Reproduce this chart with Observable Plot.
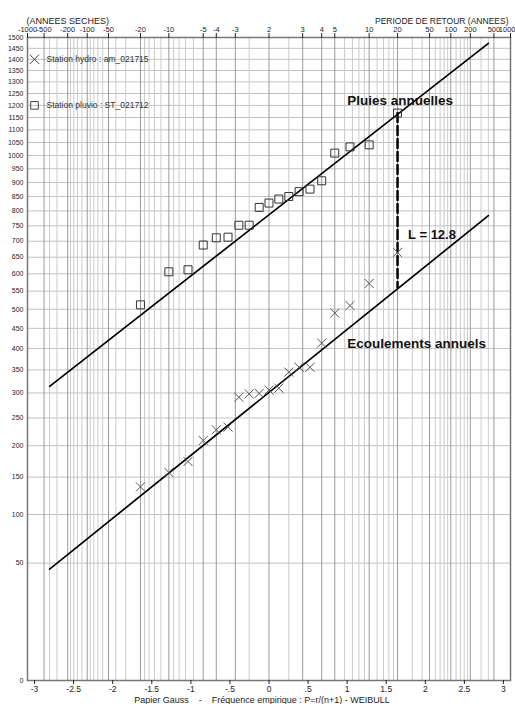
<!DOCTYPE html>
<html>
<head>
<meta charset="utf-8">
<script src="https://cdn.jsdelivr.net/npm/d3@7"></script>
<script src="https://cdn.jsdelivr.net/npm/@observablehq/plot@0.6"></script>
<style>
  html, body { margin: 0; padding: 0; background: #fff; }
</style>
</head>
<body>
<div id="chart"></div>
<script>
// ---- data ----
// annual rainfall (Station pluvio : ST_021712), sorted, n = 19
const rainfall = [512, 606, 612, 688, 711, 713, 752, 752, 812, 827, 841, 850, 867, 876, 906, 1009, 1033, 1041, 1168];
// annual runoff (Station hydro : am_021715), sorted, n = 19
const runoff = [136, 157, 174, 209, 228, 233, 291, 298, 299, 306, 310, 345, 356, 356, 413, 490, 510, 572, 665];

// fitted laws: end points given as non-exceedance probabilities and values
const fitP = [0.0025, 0.9975];
const rainFit = [314, 1473];
const runoffFit = [45, 784];

// return period marked by the dashed segment, and its ends
const markT = 20;
const markV = [1168, 560];

// axes
const yTicks = [0, 50, 100, 150, 200, 250, 300, 350, 400, 450, 500, 550, 600, 650, 700, 750, 800, 850, 900, 950, 1000, 1050, 1100, 1150, 1200, 1250, 1300, 1350, 1400, 1450, 1500];
const uTicks = [-3, -2.5, -2, -1.5, -1, -0.5, 0, 0.5, 1, 1.5, 2, 2.5, 3];
const periodsLabeled = [1000, 500, 200, 100, 50, 20, 10, 5, 4, 3];
const periodsGrid = [1000, 500, 400, 300, 200, 180, 160, 140, 120, 100, 90, 80, 70, 60, 50, 40, 30, 20, 18, 16, 14, 12, 10, 9, 8, 7, 6, 5, 4, 3, 2.5];

const legendItems = [
  {label: "Station hydro : am_021715", symbol: "times", v: 1400},
  {label: "Station pluvio : ST_021712", symbol: "square", v: 1200}
];
const annotations = [
  {text: "Pluies annuelles", u: 1.0, v: 1219, size: 13.5},
  {text: "Ecoulements annuels", u: 1.0, v: 411, size: 13.5},
  {text: "L = 12.8", u: 1.78, v: 722, size: 13}
];

// ---- inverse normal CDF (Acklam) ----
function qnorm(p) {
  const a = [-3.969683028665376e+01, 2.209460984245205e+02, -2.759285104469687e+02, 1.383577518672690e+02, -3.066479806614716e+01, 2.506628277459239e+00];
  const b = [-5.447609879822406e+01, 1.615858368580409e+02, -1.556989798598866e+02, 6.680131188771972e+01, -1.328068155288572e+01];
  const c = [-7.784894002430293e-03, -3.223964580411365e-01, -2.400758277161838e+00, -2.549732539343734e+00, 4.374664141464968e+00, 2.938163982698783e+00];
  const d = [7.784695709041462e-03, 3.224671290700398e-01, 2.445134137142996e+00, 3.754408661907416e+00];
  const pl = 0.02425, ph = 1 - pl;
  let q, r;
  if (p < pl) {
    q = Math.sqrt(-2 * Math.log(p));
    return (((((c[0]*q+c[1])*q+c[2])*q+c[3])*q+c[4])*q+c[5]) / ((((d[0]*q+d[1])*q+d[2])*q+d[3])*q+1);
  }
  if (p > ph) {
    q = Math.sqrt(-2 * Math.log(1 - p));
    return -(((((c[0]*q+c[1])*q+c[2])*q+c[3])*q+c[4])*q+c[5]) / ((((d[0]*q+d[1])*q+d[2])*q+d[3])*q+1);
  }
  q = p - 0.5; r = q * q;
  return (((((a[0]*r+a[1])*r+a[2])*r+a[3])*r+a[4])*r+a[5])*q / (((((b[0]*r+b[1])*r+b[2])*r+b[3])*r+b[4])*r+1);
}

// Weibull empirical frequency P = r/(n+1)
const weibull = (arr) => arr.map((v, i) => ({u: qnorm((i + 1) / (arr.length + 1)), v}));
const rainPts = weibull(rainfall);
const runoffPts = weibull(runoff);

const dryU = (T) => qnorm(1 / T);
const wetU = (T) => qnorm(1 - 1 / T);

// grid lines
const gridLines = [];
for (const T of periodsGrid) {
  const strong = periodsLabeled.includes(T);
  gridLines.push({u: dryU(T), strong}, {u: wetU(T), strong});
}
gridLines.push({u: 0, strong: true});

// top axis (return periods)
const topLabel = new Map();
for (const T of periodsLabeled) {
  topLabel.set(dryU(T), "-" + T);
  topLabel.set(wetU(T), T === 1000 ? "" : String(T));
}
topLabel.set(0, "2");
const topTicks = Array.from(topLabel.keys());
const lastTop = [{u: wetU(1000), label: "1000"}];

const fitRain = fitP.map((p, i) => ({u: qnorm(p), v: rainFit[i]}));
const fitRunoff = fitP.map((p, i) => ({u: qnorm(p), v: runoffFit[i]}));
const markSeg = markV.map(v => ({u: wetU(markT), v}));

const uMax = qnorm(0.999);

const chart = Plot.plot({
  width: 515,
  height: 704,
  marginTop: 37,
  marginBottom: 24,
  marginLeft: 27,
  marginRight: 5,
  style: {fontFamily: "'Liberation Sans', Arial, sans-serif", fontSize: "8px", color: "#222", background: "#fff"},
  x: {domain: [-uMax, uMax], axis: null},
  y: {type: "sqrt", domain: [0, 1500], axis: null},
  marks: [
    Plot.ruleY(yTicks, {stroke: "#c2c2c2", strokeWidth: 1}),
    Plot.ruleX(gridLines.filter(d => !d.strong), {x: "u", stroke: "#cbcbcb", strokeWidth: 1}),
    Plot.ruleX(gridLines.filter(d => d.strong), {x: "u", stroke: "#9a9a9a", strokeWidth: 1}),
    Plot.frame({stroke: "#777", strokeWidth: 1.5}),
    Plot.axisY(yTicks, {anchor: "left", tickSize: 0, tickPadding: 4, fontSize: 7, label: null, tickFormat: d => String(d)}),
    Plot.axisX(uTicks, {anchor: "bottom", tickSize: 4, tickPadding: 1, fontSize: 8.5, label: null,
      tickFormat: d => String(d).replace("0.", ".")}),
    Plot.axisX(topTicks, {anchor: "top", tickSize: 5, tickPadding: 1, fontSize: 7.5, label: null,
      tickFormat: d => topLabel.get(d)}),
    Plot.text(lastTop, {x: "u", text: "label", frameAnchor: "top", textAnchor: "end", lineAnchor: "bottom", dx: 5, dy: -6, fontSize: 7.5}),
    Plot.text(["(ANNEES SECHES)"], {frameAnchor: "top-left", textAnchor: "start", dx: -1, dy: -20, fontSize: 9}),
    Plot.text(["PERIODE DE RETOUR (ANNEES)"], {frameAnchor: "top-right", textAnchor: "end", dx: -2, dy: -20, fontSize: 8.5}),
    Plot.text(["Papier Gauss\u00a0\u00a0\u00a0\u00a0-\u00a0\u00a0\u00a0\u00a0Fréquence empirique : P=r/(n+1) - WEIBULL"],
      {frameAnchor: "bottom", dx: -7, dy: 22, fontSize: 9}),
    Plot.line(fitRain, {x: "u", y: "v", stroke: "#000", strokeWidth: 1.7}),
    Plot.line(fitRunoff, {x: "u", y: "v", stroke: "#000", strokeWidth: 1.7}),
    Plot.line(markSeg, {x: "u", y: "v", stroke: "#000", strokeWidth: 2.5, strokeDasharray: "9,4"}),
    Plot.dot(rainPts, {x: "u", y: "v", symbol: "square", r: 4.5, stroke: "#333", strokeWidth: 1, fill: "none"}),
    Plot.dot(runoffPts, {x: "u", y: "v", symbol: "times", r: 4.2, stroke: "#555", strokeWidth: 1}),
    Plot.dot(legendItems, {y: "v", frameAnchor: "left", dx: 7, symbol: "symbol", r: 4.3, stroke: "#444", strokeWidth: 1, fill: "none"}),
    Plot.text(legendItems, {y: "v", frameAnchor: "left", text: "label", textAnchor: "start", dx: 19, fontSize: 8.5, fill: "#333"}),
    Plot.text(annotations, {x: "u", y: "v", text: "text", textAnchor: "start", fontSize: d => d.size, fontWeight: "bold", fill: "#111"})
  ]
});
document.getElementById("chart").appendChild(chart);
</script>
</body>
</html>
